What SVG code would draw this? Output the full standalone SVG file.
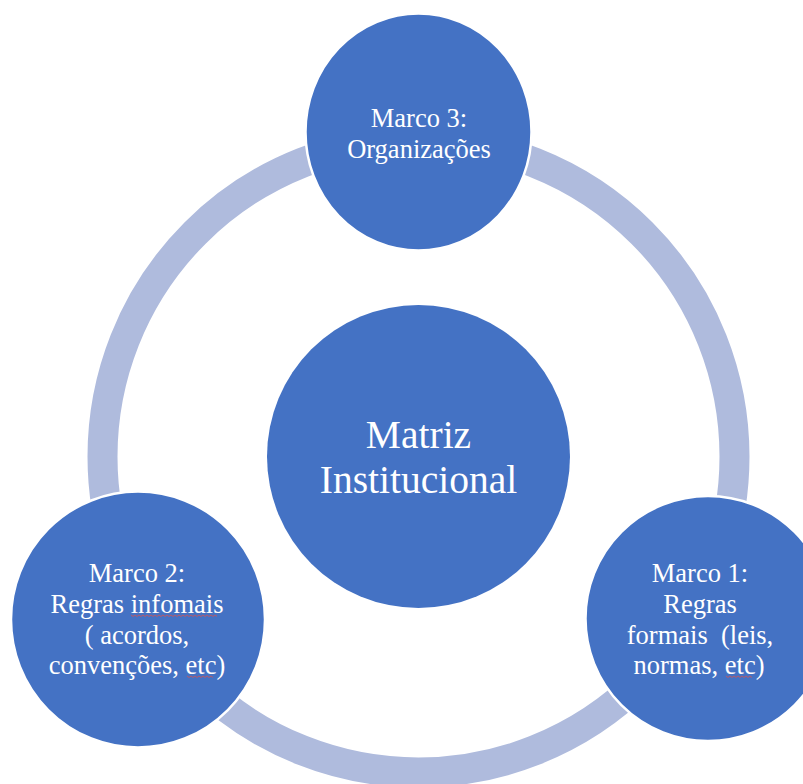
<svg xmlns="http://www.w3.org/2000/svg" width="803" height="784" viewBox="0 0 803 784">
<style>
.node{fill:#4472C4;stroke:#FFFFFF;stroke-width:2.5}
.lbl{font-family:"Liberation Serif","Times New Roman",serif;fill:#FFFFFF;text-anchor:middle}
.sm{font-size:26.5px}
.lg{font-size:39.5px}
.ring{fill:none;stroke:#AFBBDD;stroke-width:30}
.spell{fill:none;stroke:#D9534F;stroke-width:0.8}
</style>
<rect width="803" height="784" fill="#FFFFFF"/>
<g id="connectors">
<circle class="ring" cx="418.5" cy="456.5" r="316"/>
</g>
<g id="center">
<circle class="node" cx="418.5" cy="456.5" r="151.5" style="stroke:none"/>
<text class="lbl lg" x="418.5" y="448">Matriz</text>
<text class="lbl lg" x="418.5" y="493">Institucional</text>
</g>
<g id="marco3">
<ellipse class="node" cx="418.5" cy="132" rx="113" ry="118.5"/>
<text class="lbl sm" x="419" y="127">Marco 3:</text>
<text class="lbl sm" x="419" y="157.5">Organizações</text>
</g>
<g id="marco2">
<ellipse class="node" cx="138" cy="619.5" rx="127" ry="128"/>
<text class="lbl sm" x="137" y="582">Marco 2:</text>
<text class="lbl sm" x="137" y="613">Regras infomais</text>
<text class="lbl sm" x="137" y="644">( acordos,</text>
<text class="lbl sm" x="137" y="674">convenções, etc)</text>
<path class="spell" d="M131 615 l2 1.5 l2 -1.5 l2 1.5 l2 -1.5 l2 1.5 l2 -1.5 l2 1.5 l2 -1.5 l2 1.5 l2 -1.5 l2 1.5 l2 -1.5 l2 1.5 l2 -1.5 l2 1.5 l2 -1.5 l2 1.5 l2 -1.5 l2 1.5 l2 -1.5 l2 1.5 l2 -1.5 l2 1.5 l2 -1.5 l2 1.5 l2 -1.5 l2 1.5 l2 -1.5 l2 1.5 l2 -1.5 l2 1.5 l2 -1.5 l2 1.5 l2 -1.5 l2 1.5 l2 -1.5 l2 1.5 l2 -1.5 l2 1.5 l2 -1.5 l2 1.5 l2 -1.5 l2 1.5"/>
<path class="spell" d="M187 676 l2 1.5 l2 -1.5 l2 1.5 l2 -1.5 l2 1.5 l2 -1.5 l2 1.5 l2 -1.5 l2 1.5 l2 -1.5 l2 1.5 l2 -1.5 l2 1.5"/>
</g>
<g id="marco1">
<circle class="node" cx="708" cy="618.5" r="122.5"/>
<text class="lbl sm" x="700" y="582">Marco 1:</text>
<text class="lbl sm" x="700" y="613">Regras</text>
<text class="lbl sm" x="700" y="644" xml:space="preserve">formais  (leis,</text>
<text class="lbl sm" x="699" y="674">normas, etc)</text>
<path class="spell" d="M726 676 l2 1.5 l2 -1.5 l2 1.5 l2 -1.5 l2 1.5 l2 -1.5 l2 1.5 l2 -1.5 l2 1.5 l2 -1.5 l2 1.5 l2 -1.5 l2 1.5"/>
</g>
</svg>
